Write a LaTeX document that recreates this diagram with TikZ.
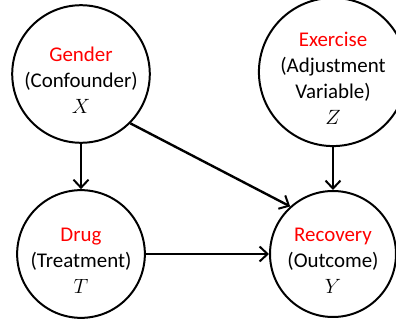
\documentclass[tikz,border=0pt]{standalone}
\usepackage{fontspec}
\setmainfont{Carlito}
\usetikzlibrary{arrows.meta, positioning}
\definecolor{name-color}{RGB}{255,0,0}
\newcommand{\toppad}{\rule{0pt}{27bp}}

\begin{document}
\begin{tikzpicture}[x=1bp, y=1bp,
    varnode/.style={circle, draw, line width=2pt, minimum size=126bp, inner sep=0pt, align=center, font=\fontsize{21}{26}\selectfont},
    arrow/.style={-{Straight Barb[length=8bp, width=15bp, line width=2pt]}, line width=2.4pt}]

    % Canvas
    \useasboundingbox (0,0) rectangle (396,320);

    % Variables
    \node[varnode] (gender) at (81,246) {\toppad\textcolor{name-color}{Gender}\\(Confounder)\\$X$};
    \node[varnode] (exercise) at (333,248) {\toppad\textcolor{name-color}{Exercise}\\(Adjustment\\Variable)\\$Z$};
    \node[varnode] (drug) at (81,66) {\toppad\textcolor{name-color}{Drug}\\(Treatment)\\$T$};
    \node[varnode] (recovery) at (333,66) {\toppad\textcolor{name-color}{Recovery}\\(Outcome)\\$Y$};

    % Arrows
    \draw[arrow] (gender) -- (drug);
    \draw[arrow] (exercise) -- (recovery);
    \draw[arrow] (drug) -- (recovery);
    \draw[arrow] (gender.-45) -- (recovery.132);
\end{tikzpicture}
\end{document}
